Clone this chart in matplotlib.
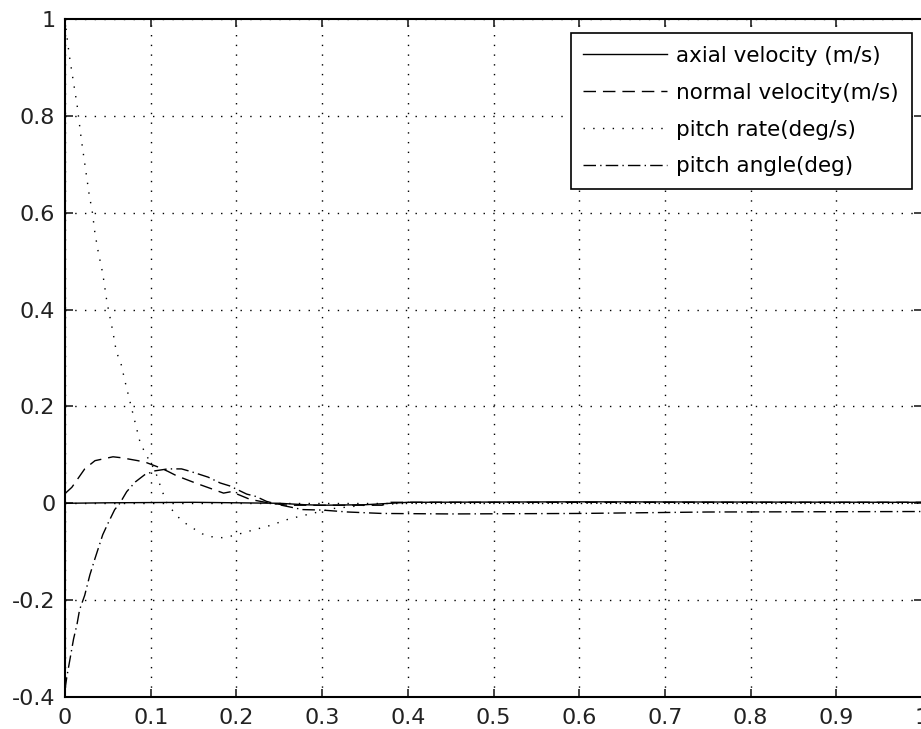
import matplotlib
matplotlib.use("Agg")
import matplotlib.pyplot as plt
from matplotlib.ticker import FuncFormatter

plt.rcParams['font.family'] = ['DejaVu Sans']
plt.rcParams['axes.unicode_minus'] = False

# values
t_axial = [0.0, 0.05, 0.15, 0.25, 0.28, 0.30, 0.35, 0.40, 0.60, 1.0]
axial_velocity = [0.0, 0.001, 0.002, 0.0, -0.003, -0.004, -0.003, 0.002, 0.003, 0.002]

t_normal = [0.0, 0.008, 0.023, 0.035, 0.056, 0.066, 0.085, 0.095, 0.11, 0.12, 0.13,
            0.152, 0.163, 0.185, 0.194, 0.216, 0.24, 0.26, 0.30, 0.37, 0.38, 1.0]
normal_velocity = [0.02, 0.033, 0.071, 0.088, 0.096, 0.094, 0.088, 0.084, 0.074, 0.066, 0.057,
                   0.042, 0.035, 0.021, 0.024, 0.008, 0.0, -0.004, -0.004, -0.004, 0.002, 0.002]

t_rate = [0.0, 0.002, 0.005, 0.010, 0.014, 0.019, 0.023, 0.028, 0.032, 0.035, 0.039,
          0.044, 0.049, 0.056, 0.060, 0.065, 0.070, 0.079, 0.087, 0.093, 0.105, 0.113,
          0.119, 0.126, 0.136, 0.148, 0.160, 0.171, 0.183, 0.196, 0.216, 0.239, 0.262,
          0.286, 0.312, 0.35, 0.40, 1.0]
pitch_rate = [1.0, 0.967, 0.925, 0.868, 0.824, 0.752, 0.702, 0.640, 0.600, 0.557, 0.517,
              0.475, 0.415, 0.353, 0.312, 0.291, 0.252, 0.187, 0.130, 0.105, 0.068, 0.027,
              0.0, -0.016, -0.036, -0.050, -0.063, -0.069, -0.071, -0.067, -0.057, -0.046, -0.032,
              -0.022, -0.011, -0.004, 0.0, 0.0]

t_angle = [0.0, 0.002, 0.006, 0.010, 0.014, 0.017, 0.023, 0.029, 0.035, 0.044, 0.050,
           0.058, 0.064, 0.072, 0.082, 0.093, 0.105, 0.12, 0.136, 0.146, 0.167, 0.181,
           0.192, 0.212, 0.223, 0.235, 0.25, 0.277, 0.30, 0.33, 0.37, 0.45, 0.60, 0.75, 1.0]
pitch_angle = [-0.385, -0.36, -0.32, -0.28, -0.25, -0.22, -0.19, -0.148, -0.114, -0.065, -0.042,
               -0.013, 0.0, 0.024, 0.044, 0.059, 0.067, 0.071, 0.071, 0.066, 0.054, 0.042,
               0.036, 0.019, 0.014, 0.004, -0.003, -0.013, -0.014, -0.018, -0.021, -0.022, -0.021, -0.018, -0.017]

xticks = [0, 0.1, 0.2, 0.3, 0.4, 0.5, 0.6, 0.7, 0.8, 0.9, 1]
yticks = [-0.4, -0.2, 0, 0.2, 0.4, 0.6, 0.8, 1]

fig = plt.figure(figsize=(9.21, 7.29), dpi=100)
ax = fig.add_axes([65 / 921, 32 / 729, 857 / 921, 678 / 729])

ax.plot(t_axial, axial_velocity, color='black', linestyle='-', linewidth=1.0,
        label='axial velocity (m/s)')
ax.plot(t_normal, normal_velocity, color='black', linestyle=(0, (9, 5)), linewidth=1.0,
        label='normal velocity(m/s)')
ax.plot(t_rate, pitch_rate, color='black', linestyle=(0, (1, 6)), linewidth=1.0,
        label='pitch rate(deg/s)')
ax.plot(t_angle, pitch_angle, color='black', linestyle=(0, (9, 3, 1, 3)), linewidth=1.0,
        label='pitch angle(deg)')

ax.set_xlim(0, 1)
ax.set_ylim(-0.4, 1)
ax.set_xticks(xticks)
ax.set_yticks(yticks)
fmt = FuncFormatter(lambda v, pos: f"{v:g}")
ax.xaxis.set_major_formatter(fmt)
ax.yaxis.set_major_formatter(fmt)

# matlab style dotted grid
ax.grid(True, color='black', linestyle=(0, (1, 6)), linewidth=1.0)
ax.tick_params(direction='in', top=True, right=True, length=6, width=1.2,
               labelsize=16, colors='#222222')
ax.tick_params(axis='x', pad=8)
ax.tick_params(axis='y', pad=7)
for s in ax.spines.values():
    s.set_linewidth(1.5)

leg = ax.legend(loc='upper right', bbox_to_anchor=(847 / 857, 664 / 678),
                borderaxespad=0, fontsize=15.5, handlelength=3.9, handletextpad=0.42,
                labelspacing=0.78, borderpad=0.6, fancybox=False, framealpha=1,
                edgecolor='black')
leg.get_frame().set_linewidth(1.2)

fig.savefig("out.png", dpi=100)
